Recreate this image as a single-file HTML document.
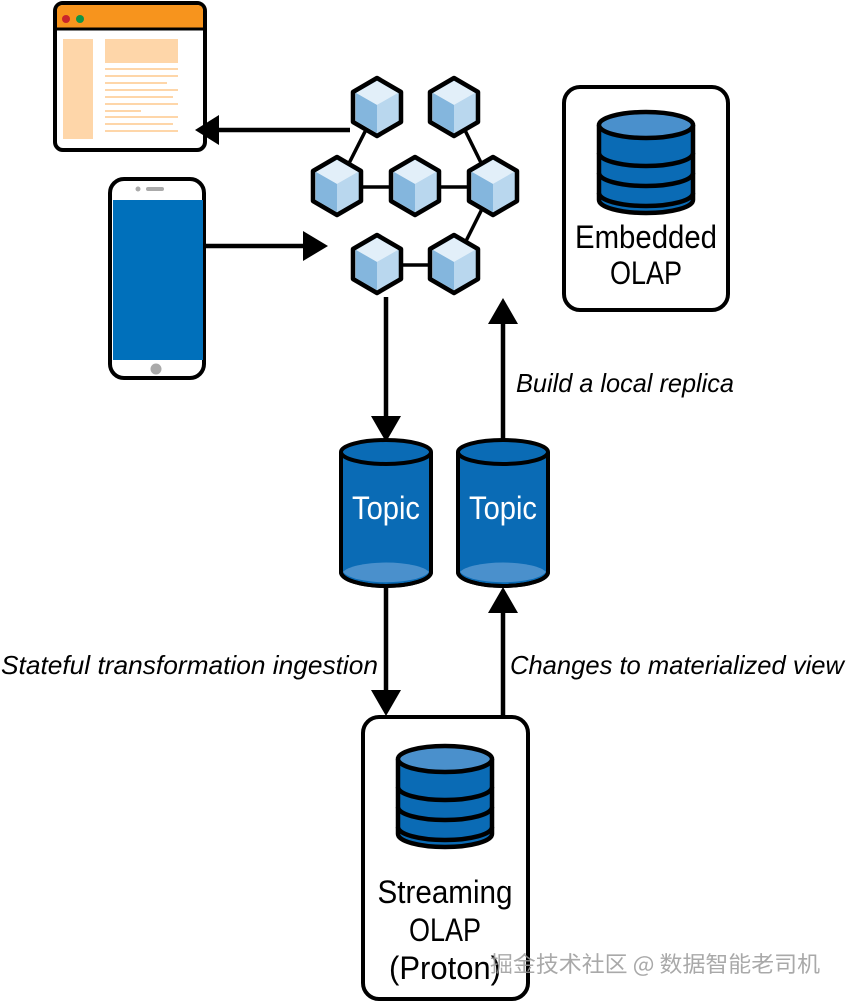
<!DOCTYPE html>
<html><head><meta charset="utf-8"><style>
html,body{margin:0;padding:0;background:#fff;}
svg{display:block;}
.t{font-family:"Liberation Sans","DejaVu Sans",sans-serif;}
</style></head><body>
<svg width="846" height="1002" viewBox="0 0 846 1002" xmlns="http://www.w3.org/2000/svg">
<defs>
<g id="cube">
<polygon points="0,-30 24,-16 24,14 0,28 -24,14 -24,-16" fill="#b5d5ec" stroke="#000" stroke-width="4.5" stroke-linejoin="round"/>
<polygon points="0,-27 21,-15 0,-3 -21,-15" fill="#e2eff9"/>
<polygon points="-21,-15 0,-3 0,25 -21,13" fill="#84b6dd"/>
<polygon points="21,-15 0,-3 0,25 21,13" fill="#b9d7ee"/>
</g>
<g id="db">
<path d="M-47,0 L-47,75 A47,13 0 0 0 47,75 L47,0" fill="#0a6bb5" stroke="#000" stroke-width="4.5"/>
<ellipse cx="0" cy="0" rx="47" ry="13" fill="#4a90cc" stroke="#000" stroke-width="4.5"/>
<path d="M-47,28 A47,13 0 0 0 47,28 M-47,48 A47,13 0 0 0 47,48 M-47,68 A47,13 0 0 0 47,68" fill="none" stroke="#000" stroke-width="4.5"/>
</g>
</defs>

<!-- browser -->
<rect x="55" y="3" width="150" height="147" rx="8" fill="#fff" stroke="#000" stroke-width="4"/>
<path d="M57,28 L57,11 Q57,5 63,5 L197,5 Q203,5 203,11 L203,28 Z" fill="#f7941d"/>
<line x1="55" y1="29" x2="205" y2="29" stroke="#000" stroke-width="3"/>
<circle cx="66" cy="19" r="4" fill="#c9252b"/>
<circle cx="80" cy="19" r="4" fill="#109446"/>
<rect x="63" y="39" width="30" height="100" fill="#fed6a9"/>
<rect x="105" y="39" width="73" height="24" fill="#fed6a9"/>
<g stroke="#fed6a9" stroke-width="2">
<line x1="105" y1="69" x2="178" y2="69"/><line x1="105" y1="76" x2="178" y2="76"/>
<line x1="105" y1="83" x2="167" y2="83"/><line x1="105" y1="90" x2="178" y2="90"/>
<line x1="105" y1="97" x2="173" y2="97"/><line x1="105" y1="104" x2="178" y2="104"/>
<line x1="105" y1="111" x2="141" y2="111"/><line x1="105" y1="117" x2="178" y2="117"/>
<line x1="105" y1="124" x2="173" y2="124"/><line x1="105" y1="131" x2="178" y2="131"/>
</g>

<!-- phone -->
<rect x="110" y="179" width="94" height="199" rx="14" fill="#fff" stroke="#000" stroke-width="4"/>
<rect x="113" y="200" width="90" height="160" fill="#0070bb"/>
<circle cx="138" cy="189" r="2.5" fill="#aaa"/>
<rect x="146" y="187" width="18" height="4" rx="2" fill="#aaa"/>
<circle cx="156" cy="369" r="5.5" fill="#aaa"/>

<!-- arrows left/right -->
<line x1="350" y1="130" x2="215" y2="130" stroke="#000" stroke-width="4.5"/>
<polygon points="195,130 219,115 219,145" fill="#000"/>
<line x1="206" y1="246" x2="306" y2="246" stroke="#000" stroke-width="4.5"/>
<polygon points="328,246 303,231 303,261" fill="#000"/>

<!-- cube network -->
<g stroke="#000" stroke-width="3.5">
<line x1="377" y1="108" x2="337" y2="187"/>
<line x1="454" y1="108" x2="493" y2="187"/>
<line x1="337" y1="187" x2="493" y2="187"/>
<line x1="493" y1="187" x2="454" y2="265"/>
<line x1="377" y1="265" x2="454" y2="265"/>
</g>
<use href="#cube" x="377" y="108"/>
<use href="#cube" x="454" y="108"/>
<use href="#cube" x="337" y="187"/>
<use href="#cube" x="415" y="187"/>
<use href="#cube" x="493" y="187"/>
<use href="#cube" x="377" y="265"/>
<use href="#cube" x="454" y="265"/>

<!-- embedded olap -->
<rect x="564" y="87" width="164" height="223" rx="16" fill="#fff" stroke="#000" stroke-width="4"/>
<use href="#db" x="646" y="125"/>
<text x="646" y="248" class="t" font-size="32" text-anchor="middle" textLength="142" lengthAdjust="spacingAndGlyphs">Embedded</text>
<text x="646" y="284" class="t" font-size="32" text-anchor="middle" textLength="72" lengthAdjust="spacingAndGlyphs">OLAP</text>

<!-- vertical arrows top -->
<line x1="386" y1="297" x2="386" y2="420" stroke="#000" stroke-width="4.5"/>
<polygon points="386,442 371,416 401,416" fill="#000"/>
<line x1="503" y1="440" x2="503" y2="320" stroke="#000" stroke-width="4.5"/>
<polygon points="503,298 488,324 518,324" fill="#000"/>
<text x="516" y="392" class="t" font-size="26" font-style="italic" textLength="218" lengthAdjust="spacingAndGlyphs">Build a local replica</text>

<!-- topics -->
<g>
<path d="M341,452 L341,572 A45,14 0 0 0 431,572 L431,452" fill="#0a6bb5" stroke="#000" stroke-width="4"/>
<path d="M343,572 A44,12 0 0 1 429,572 A44,13 0 0 1 343,572 Z" fill="#4a90cc"/>
<ellipse cx="386" cy="452" rx="45" ry="12" fill="#0a6bb5" stroke="#000" stroke-width="4"/>
<path d="M341,452 L341,572 A45,14 0 0 0 431,572 L431,452" fill="none" stroke="#000" stroke-width="4"/>
<text x="386" y="519" class="t" font-size="32" fill="#fff" text-anchor="middle" textLength="68" lengthAdjust="spacingAndGlyphs">Topic</text>
</g>
<g>
<path d="M458,452 L458,572 A45,14 0 0 0 548,572 L548,452" fill="#0a6bb5" stroke="#000" stroke-width="4"/>
<path d="M460,572 A44,12 0 0 1 546,572 A44,13 0 0 1 460,572 Z" fill="#4a90cc"/>
<ellipse cx="503" cy="452" rx="45" ry="12" fill="#0a6bb5" stroke="#000" stroke-width="4"/>
<path d="M458,452 L458,572 A45,14 0 0 0 548,572 L548,452" fill="none" stroke="#000" stroke-width="4"/>
<text x="503" y="519" class="t" font-size="32" fill="#fff" text-anchor="middle" textLength="68" lengthAdjust="spacingAndGlyphs">Topic</text>
</g>

<!-- lower arrows -->
<line x1="386" y1="586" x2="386" y2="692" stroke="#000" stroke-width="4.5"/>
<polygon points="386,716 371,690 401,690" fill="#000"/>
<line x1="503" y1="745" x2="503" y2="610" stroke="#000" stroke-width="4.5"/>
<polygon points="503,587 488,613 518,613" fill="#000"/>
<text x="1" y="674" class="t" font-size="26" font-style="italic" textLength="377" lengthAdjust="spacingAndGlyphs">Stateful transformation ingestion</text>
<text x="510" y="674" class="t" font-size="26" font-style="italic" textLength="334" lengthAdjust="spacingAndGlyphs">Changes to materialized view</text>

<!-- streaming olap -->
<rect x="363" y="717" width="165" height="282" rx="16" fill="#fff" stroke="#000" stroke-width="4"/>
<use href="#db" x="445" y="759"/>
<text x="445" y="903" class="t" font-size="32" text-anchor="middle" textLength="135" lengthAdjust="spacingAndGlyphs">Streaming</text>
<text x="445" y="941" class="t" font-size="32" text-anchor="middle" textLength="72" lengthAdjust="spacingAndGlyphs">OLAP</text>
<text x="445" y="979" class="t" font-size="32" text-anchor="middle" textLength="112" lengthAdjust="spacingAndGlyphs">(Proton)</text>

<text x="490" y="972" font-family="'Noto Sans CJK SC','WenQuanYi Zen Hei',sans-serif" font-size="22" fill="#9a9a9a" fill-opacity="0.85" textLength="330" lengthAdjust="spacingAndGlyphs">掘金技术社区 @ 数据智能老司机</text>
</svg>
</body></html>
